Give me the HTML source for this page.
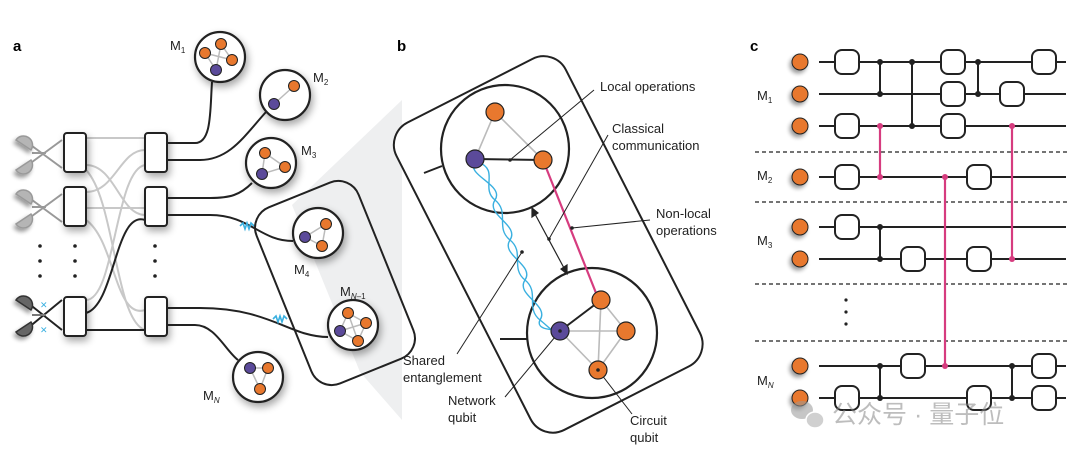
<!DOCTYPE html>
<html><head><meta charset="utf-8"><style>
html,body{margin:0;padding:0;background:#fff;}
svg{display:block;font-family:"Liberation Sans","Noto Sans CJK SC",sans-serif;}
</style></head><body>
<svg width="1080" height="458" viewBox="0 0 1080 458" xmlns="http://www.w3.org/2000/svg">
<defs>
<filter id="sh" x="-50%" y="-50%" width="200%" height="200%"><feGaussianBlur in="SourceAlpha" stdDeviation="4"/><feOffset dx="2" dy="4"/><feComponentTransfer><feFuncA type="linear" slope="0.35"/></feComponentTransfer><feMerge><feMergeNode/><feMergeNode in="SourceGraphic"/></feMerge></filter>
<filter id="sh2" x="-50%" y="-50%" width="200%" height="200%"><feGaussianBlur in="SourceAlpha" stdDeviation="2"/><feOffset dx="-2" dy="3"/><feComponentTransfer><feFuncA type="linear" slope="0.4"/></feComponentTransfer><feMerge><feMergeNode/><feMergeNode in="SourceGraphic"/></feMerge></filter>
</defs>
<!-- cone -->
<polygon points="292,205 402,100 402,420 360,372" fill="#eeeff0"/>

<!-- panel a -->
<text x="13" y="51" font-size="15" font-weight="bold">a</text>
<!-- gray crossings -->
<g fill="none" stroke="#c8c8c8" stroke-width="2">
<path d="M86,138 L145,138"/>
<path d="M86,165 C115,165 120,215 145,215"/>
<path d="M86,192 C115,192 120,150 145,150"/>
<path d="M86,208 L145,208"/>
<path d="M86,170 C115,200 115,320 145,330"/>
<path d="M86,220 C115,240 115,320 145,310"/>
<path d="M86,300 C115,300 115,170 145,165"/>
</g>
<path d="M86,313 C115,305 115,210 145,220" fill="none" stroke="#222" stroke-width="2"/>
<path d="M86,330 L145,330" fill="none" stroke="#222" stroke-width="2"/>
<!-- detectors -->
<g stroke-width="2" fill="none">
<path d="M28,143 L62,168 M28,165 L62,140" stroke="#999"/>
<path d="M32,153 L46,153" stroke="#999"/>
<path d="M28,197 L62,222 M28,219 L62,194" stroke="#999"/>
<path d="M32,207 L46,207" stroke="#999"/>
<path d="M28,303 L62,330 M28,328 L62,300" stroke="#222"/>
<path d="M32,315 L46,315" stroke="#777"/>
</g>
<g filter="url(#sh2)">
<path d="M16,140 a9,9 0 0 1 15,10 z" fill="#b5b5b5" stroke="#999" stroke-width="1.5"/>
<path d="M16,170 a9,9 0 0 0 15,-10 z" fill="#b5b5b5" stroke="#999" stroke-width="1.5"/>
<path d="M16,194 a9,9 0 0 1 15,10 z" fill="#b5b5b5" stroke="#999" stroke-width="1.5"/>
<path d="M16,224 a9,9 0 0 0 15,-10 z" fill="#b5b5b5" stroke="#999" stroke-width="1.5"/>
<path d="M16,300 a9,9 0 0 1 15,10 z" fill="#666" stroke="#333" stroke-width="1.5"/>
<path d="M16,332 a9,9 0 0 0 15,-10 z" fill="#666" stroke="#333" stroke-width="1.5"/>
</g>
<g fill="#3ab0e0" font-size="9"><text x="40" y="308">✕</text><text x="40" y="333">✕</text></g>
<!-- dots -->
<g fill="#222">
<circle cx="40" cy="246" r="1.8"/><circle cx="40" cy="261" r="1.8"/><circle cx="40" cy="276" r="1.8"/>
<circle cx="75" cy="246" r="1.8"/><circle cx="75" cy="261" r="1.8"/><circle cx="75" cy="276" r="1.8"/>
<circle cx="155" cy="246" r="1.8"/><circle cx="155" cy="261" r="1.8"/><circle cx="155" cy="276" r="1.8"/>
</g>
<!-- boxes -->
<g fill="#fff" stroke="#222" stroke-width="2" filter="url(#sh)">
<rect x="64" y="133" width="22" height="39" rx="3"/>
<rect x="64" y="187" width="22" height="39" rx="3"/>
<rect x="64" y="297" width="22" height="39" rx="3"/>
<rect x="145" y="133" width="22" height="39" rx="3"/>
<rect x="145" y="187" width="22" height="39" rx="3"/>
<rect x="145" y="297" width="22" height="39" rx="3"/>
</g>
<!-- cables -->
<g fill="none" stroke="#222" stroke-width="2">
<path d="M167,143 L195,143 C212,143 210,110 212,82"/>
<path d="M167,160 L200,160 C230,160 245,135 266,112"/>
<path d="M167,198 L210,198 C230,198 240,195 252,183"/>
<path d="M167,215 L210,215 C250,215 260,241 293,241"/>
<path d="M167,308 L200,308 C270,308 290,337 328,337"/>
<path d="M167,325 L195,325 C215,325 225,350 238,360"/>
</g>
<g fill="none" stroke="#3ab0e0" stroke-width="1.6">
<path d="M240,226 l3,-3 l2,6 l2,-6 l2,6 l2,-6 l3,3"/>
<path d="M273,319 l3,-3 l2,6 l2,-6 l2,6 l2,-6 l3,3"/>
</g>
<!-- rounded group box -->
<rect x="280" y="188" width="110" height="190" rx="22" fill="none" stroke="#222" stroke-width="2" transform="rotate(-22 335 283)"/>
<!-- modules -->
<g fill="#fff" stroke="#222" stroke-width="2.2" filter="url(#sh)">
<circle cx="220" cy="57" r="25"/><circle cx="285" cy="95" r="25"/><circle cx="271" cy="163" r="25"/>
<circle cx="318" cy="233" r="25"/><circle cx="353" cy="325" r="25"/><circle cx="258" cy="377" r="25"/>
</g>
<g stroke="#bbb" stroke-width="1.5" fill="none">
<path d="M221,44 L216,70 M205,53 L232,60 M221,44 L232,60 M205,53 L216,70"/>
<path d="M274,104 L294,86"/>
<path d="M265,153 L285,167 L262,174 Z"/>
<path d="M326,224 L305,237 L322,246 Z"/>
<path d="M348,313 L340,331 L358,341 L366,323 Z M348,313 L358,341 M340,331 L366,323"/>
<path d="M250,368 L268,368 L260,389 Z"/>
</g>
<g stroke="#222" stroke-width="1">
<g fill="#e8782e">
<circle cx="221" cy="44" r="5.5"/><circle cx="205" cy="53" r="5.5"/><circle cx="232" cy="60" r="5.5"/>
<circle cx="294" cy="86" r="5.5"/>
<circle cx="265" cy="153" r="5.5"/><circle cx="285" cy="167" r="5.5"/>
<circle cx="326" cy="224" r="5.5"/><circle cx="322" cy="246" r="5.5"/>
<circle cx="348" cy="313" r="5.5"/><circle cx="366" cy="323" r="5.5"/><circle cx="358" cy="341" r="5.5"/>
<circle cx="268" cy="368" r="5.5"/><circle cx="260" cy="389" r="5.5"/>
</g>
<g fill="#5b4a9a">
<circle cx="216" cy="70" r="5.5"/><circle cx="274" cy="104" r="5.5"/><circle cx="262" cy="174" r="5.5"/>
<circle cx="305" cy="237" r="5.5"/><circle cx="340" cy="331" r="5.5"/><circle cx="250" cy="368" r="5.5"/>
</g>
</g>
<g font-size="13" fill="#222">
<text x="170" y="50">M<tspan font-size="8" dy="3">1</tspan></text>
<text x="313" y="82">M<tspan font-size="8" dy="3">2</tspan></text>
<text x="301" y="155">M<tspan font-size="8" dy="3">3</tspan></text>
<text x="294" y="274">M<tspan font-size="8" dy="3">4</tspan></text>
<text x="340" y="296">M<tspan font-size="8" dy="3" font-style="italic">N</tspan><tspan font-size="8">–1</tspan></text>
<text x="203" y="400">M<tspan font-size="8" dy="3" font-style="italic">N</tspan></text>
</g>

<!-- panel b -->
<text x="397" y="51" font-size="15" font-weight="bold">b</text>
<rect x="453" y="72" width="190" height="345" rx="25" fill="#fff" stroke="#222" stroke-width="2" transform="rotate(-27 548 244)"/>
<path d="M424,173 L442,166 M500,339 L527,339" stroke="#222" stroke-width="2"/>
<circle cx="505" cy="149" r="64" fill="#fff" stroke="#222" stroke-width="2.2"/>
<circle cx="592" cy="333" r="65" fill="#fff" stroke="#222" stroke-width="2.2"/>
<g stroke="#bbb" stroke-width="1.6" fill="none">
<path d="M495,112 L475,159 M495,112 L543,160"/>
<path d="M601,300 L626,331 L598,370 L560,331 Z M601,300 L598,370 M560,331 L626,331"/>
</g>
<path d="M475,159 L543,160" stroke="#222" stroke-width="2"/>
<path d="M560,331 L601,300" stroke="#222" stroke-width="2"/>
<path d="M543,160 L598,298" stroke="#d63c7f" stroke-width="2.2"/>
<!-- helix -->
<g fill="none" stroke="#3ab0e0" stroke-width="1.4">
<path d="M475,162 C465,175 505,185 495,200 C485,215 520,225 510,240 C500,255 535,265 525,280 C515,295 550,305 540,320 C535,330 555,330 558,330"/>
<path d="M478,162 C500,170 480,188 495,200 C510,212 495,228 510,240 C525,252 510,268 525,280 C540,292 525,308 540,320 C550,328 552,332 558,332"/>
</g>
<!-- double arrow -->
<g stroke="#222" stroke-width="1.2" fill="#222">
<line x1="535" y1="214" x2="564" y2="268"/>
<path d="M532,208 L532,217 L538,213 Z"/>
<path d="M567,274 L567,265 L561,269 Z"/>
</g>
<g fill="#222"><circle cx="510" cy="160" r="1.8"/><circle cx="549" cy="239" r="1.8"/><circle cx="572" cy="228" r="1.8"/><circle cx="522" cy="252" r="1.8"/><circle cx="560" cy="331" r="1.8"/><circle cx="598" cy="370" r="1.8"/></g>
<g stroke="#222" stroke-width="1" fill="none">
<path d="M510,160 L594,90"/>
<path d="M549,239 L608,135"/>
<path d="M572,228 L650,220"/>
<path d="M522,252 L457,354"/>
<path d="M560,331 L505,397"/>
<path d="M598,370 L632,414"/>
</g>
<circle cx="475" cy="159" r="9" fill="#5b4a9a" stroke="#222" stroke-width="1.2"/>
<circle cx="560" cy="331" r="9" fill="#5b4a9a" stroke="#222" stroke-width="1.2"/>
<g fill="#e8782e" stroke="#222" stroke-width="1.2">
<circle cx="495" cy="112" r="9"/><circle cx="543" cy="160" r="9"/>
<circle cx="601" cy="300" r="9"/><circle cx="626" cy="331" r="9"/><circle cx="598" cy="370" r="9"/>
</g>
<g fill="#222"><circle cx="560" cy="331" r="1.8"/><circle cx="598" cy="370" r="1.8"/></g>
<g font-size="13" fill="#222">
<text x="600" y="91">Local operations</text>
<text x="612" y="133">Classical</text><text x="612" y="150">communication</text>
<text x="656" y="218">Non-local</text><text x="656" y="235">operations</text>
<text x="403" y="365">Shared</text><text x="403" y="382">entanglement</text>
<text x="448" y="405">Network</text><text x="448" y="422">qubit</text>
<text x="630" y="425">Circuit</text><text x="630" y="442">qubit</text>
</g>

<!-- panel c -->
<text x="750" y="51" font-size="15" font-weight="bold">c</text>
<g stroke="#222" stroke-width="1.3" stroke-dasharray="4,3">
<line x1="755" y1="152" x2="1068" y2="152"/><line x1="755" y1="202" x2="1068" y2="202"/>
<line x1="755" y1="284" x2="1068" y2="284"/><line x1="755" y1="341" x2="1068" y2="341"/>
</g>
<g stroke="#222" stroke-width="2">
<line x1="819" y1="62" x2="1066" y2="62"/><line x1="819" y1="94" x2="1066" y2="94"/>
<line x1="819" y1="126" x2="1066" y2="126"/><line x1="819" y1="177" x2="1066" y2="177"/>
<line x1="819" y1="227" x2="1066" y2="227"/><line x1="819" y1="259" x2="1066" y2="259"/>
<line x1="819" y1="366" x2="1066" y2="366"/><line x1="819" y1="398" x2="1066" y2="398"/>
<line x1="880" y1="62" x2="880" y2="94"/><line x1="912" y1="62" x2="912" y2="126"/>
<line x1="978" y1="62" x2="978" y2="94"/><line x1="880" y1="227" x2="880" y2="259"/>
<line x1="880" y1="366" x2="880" y2="398"/><line x1="1012" y1="366" x2="1012" y2="398"/>
</g>
<g fill="#222">
<circle cx="880" cy="62" r="3"/><circle cx="880" cy="94" r="3"/><circle cx="912" cy="62" r="3"/><circle cx="912" cy="126" r="3"/>
<circle cx="978" cy="62" r="3"/><circle cx="978" cy="94" r="3"/><circle cx="880" cy="227" r="3"/><circle cx="880" cy="259" r="3"/>
<circle cx="880" cy="366" r="3"/><circle cx="880" cy="398" r="3"/><circle cx="1012" cy="366" r="3"/><circle cx="1012" cy="398" r="3"/>
</g>
<g stroke="#d63c7f" stroke-width="2.2" fill="#d63c7f">
<line x1="880" y1="126" x2="880" y2="177"/><line x1="945" y1="177" x2="945" y2="366"/><line x1="1012" y1="126" x2="1012" y2="259"/>
<circle cx="880" cy="126" r="3" stroke="none"/><circle cx="880" cy="177" r="3" stroke="none"/>
<circle cx="945" cy="177" r="3" stroke="none"/><circle cx="945" cy="366" r="3" stroke="none"/>
<circle cx="1012" cy="126" r="3" stroke="none"/><circle cx="1012" cy="259" r="3" stroke="none"/>
</g>
<g fill="#fff" stroke="#222" stroke-width="2">
<rect x="835" y="50" width="24" height="24" rx="7"/><rect x="941" y="50" width="24" height="24" rx="7"/><rect x="1032" y="50" width="24" height="24" rx="7"/>
<rect x="941" y="82" width="24" height="24" rx="7"/><rect x="1000" y="82" width="24" height="24" rx="7"/>
<rect x="835" y="114" width="24" height="24" rx="7"/><rect x="941" y="114" width="24" height="24" rx="7"/>
<rect x="835" y="165" width="24" height="24" rx="7"/><rect x="967" y="165" width="24" height="24" rx="7"/>
<rect x="835" y="215" width="24" height="24" rx="7"/>
<rect x="901" y="247" width="24" height="24" rx="7"/><rect x="967" y="247" width="24" height="24" rx="7"/>
<rect x="901" y="354" width="24" height="24" rx="7"/><rect x="1032" y="354" width="24" height="24" rx="7"/>
<rect x="835" y="386" width="24" height="24" rx="7"/><rect x="967" y="386" width="24" height="24" rx="7"/><rect x="1032" y="386" width="24" height="24" rx="7"/>
</g>
<g fill="#e8782e" stroke="#222" stroke-width="1" filter="url(#sh2)">
<circle cx="800" cy="62" r="8"/><circle cx="800" cy="94" r="8"/><circle cx="800" cy="126" r="8"/>
<circle cx="800" cy="177" r="8"/><circle cx="800" cy="227" r="8"/><circle cx="800" cy="259" r="8"/>
<circle cx="800" cy="366" r="8"/><circle cx="800" cy="398" r="8"/>
</g>
<g fill="#222"><circle cx="846" cy="300" r="1.6"/><circle cx="846" cy="312" r="1.6"/><circle cx="846" cy="324" r="1.6"/></g>
<g font-size="13" fill="#222">
<text x="757" y="100">M<tspan font-size="8" dy="3">1</tspan></text>
<text x="757" y="180">M<tspan font-size="8" dy="3">2</tspan></text>
<text x="757" y="245">M<tspan font-size="8" dy="3">3</tspan></text>
<text x="757" y="385">M<tspan font-size="8" dy="3" font-style="italic">N</tspan></text>
</g>
<!-- watermark -->
<g opacity="0.55">
<ellipse cx="802" cy="410" rx="11" ry="9" fill="#999"/>
<ellipse cx="815" cy="420" rx="9" ry="8" fill="#aaa" stroke="#fff" stroke-width="1.5"/>
<text x="832" y="423" font-size="25" fill="#888">公众号 · 量子位</text>
</g>
</svg>
</body></html>
